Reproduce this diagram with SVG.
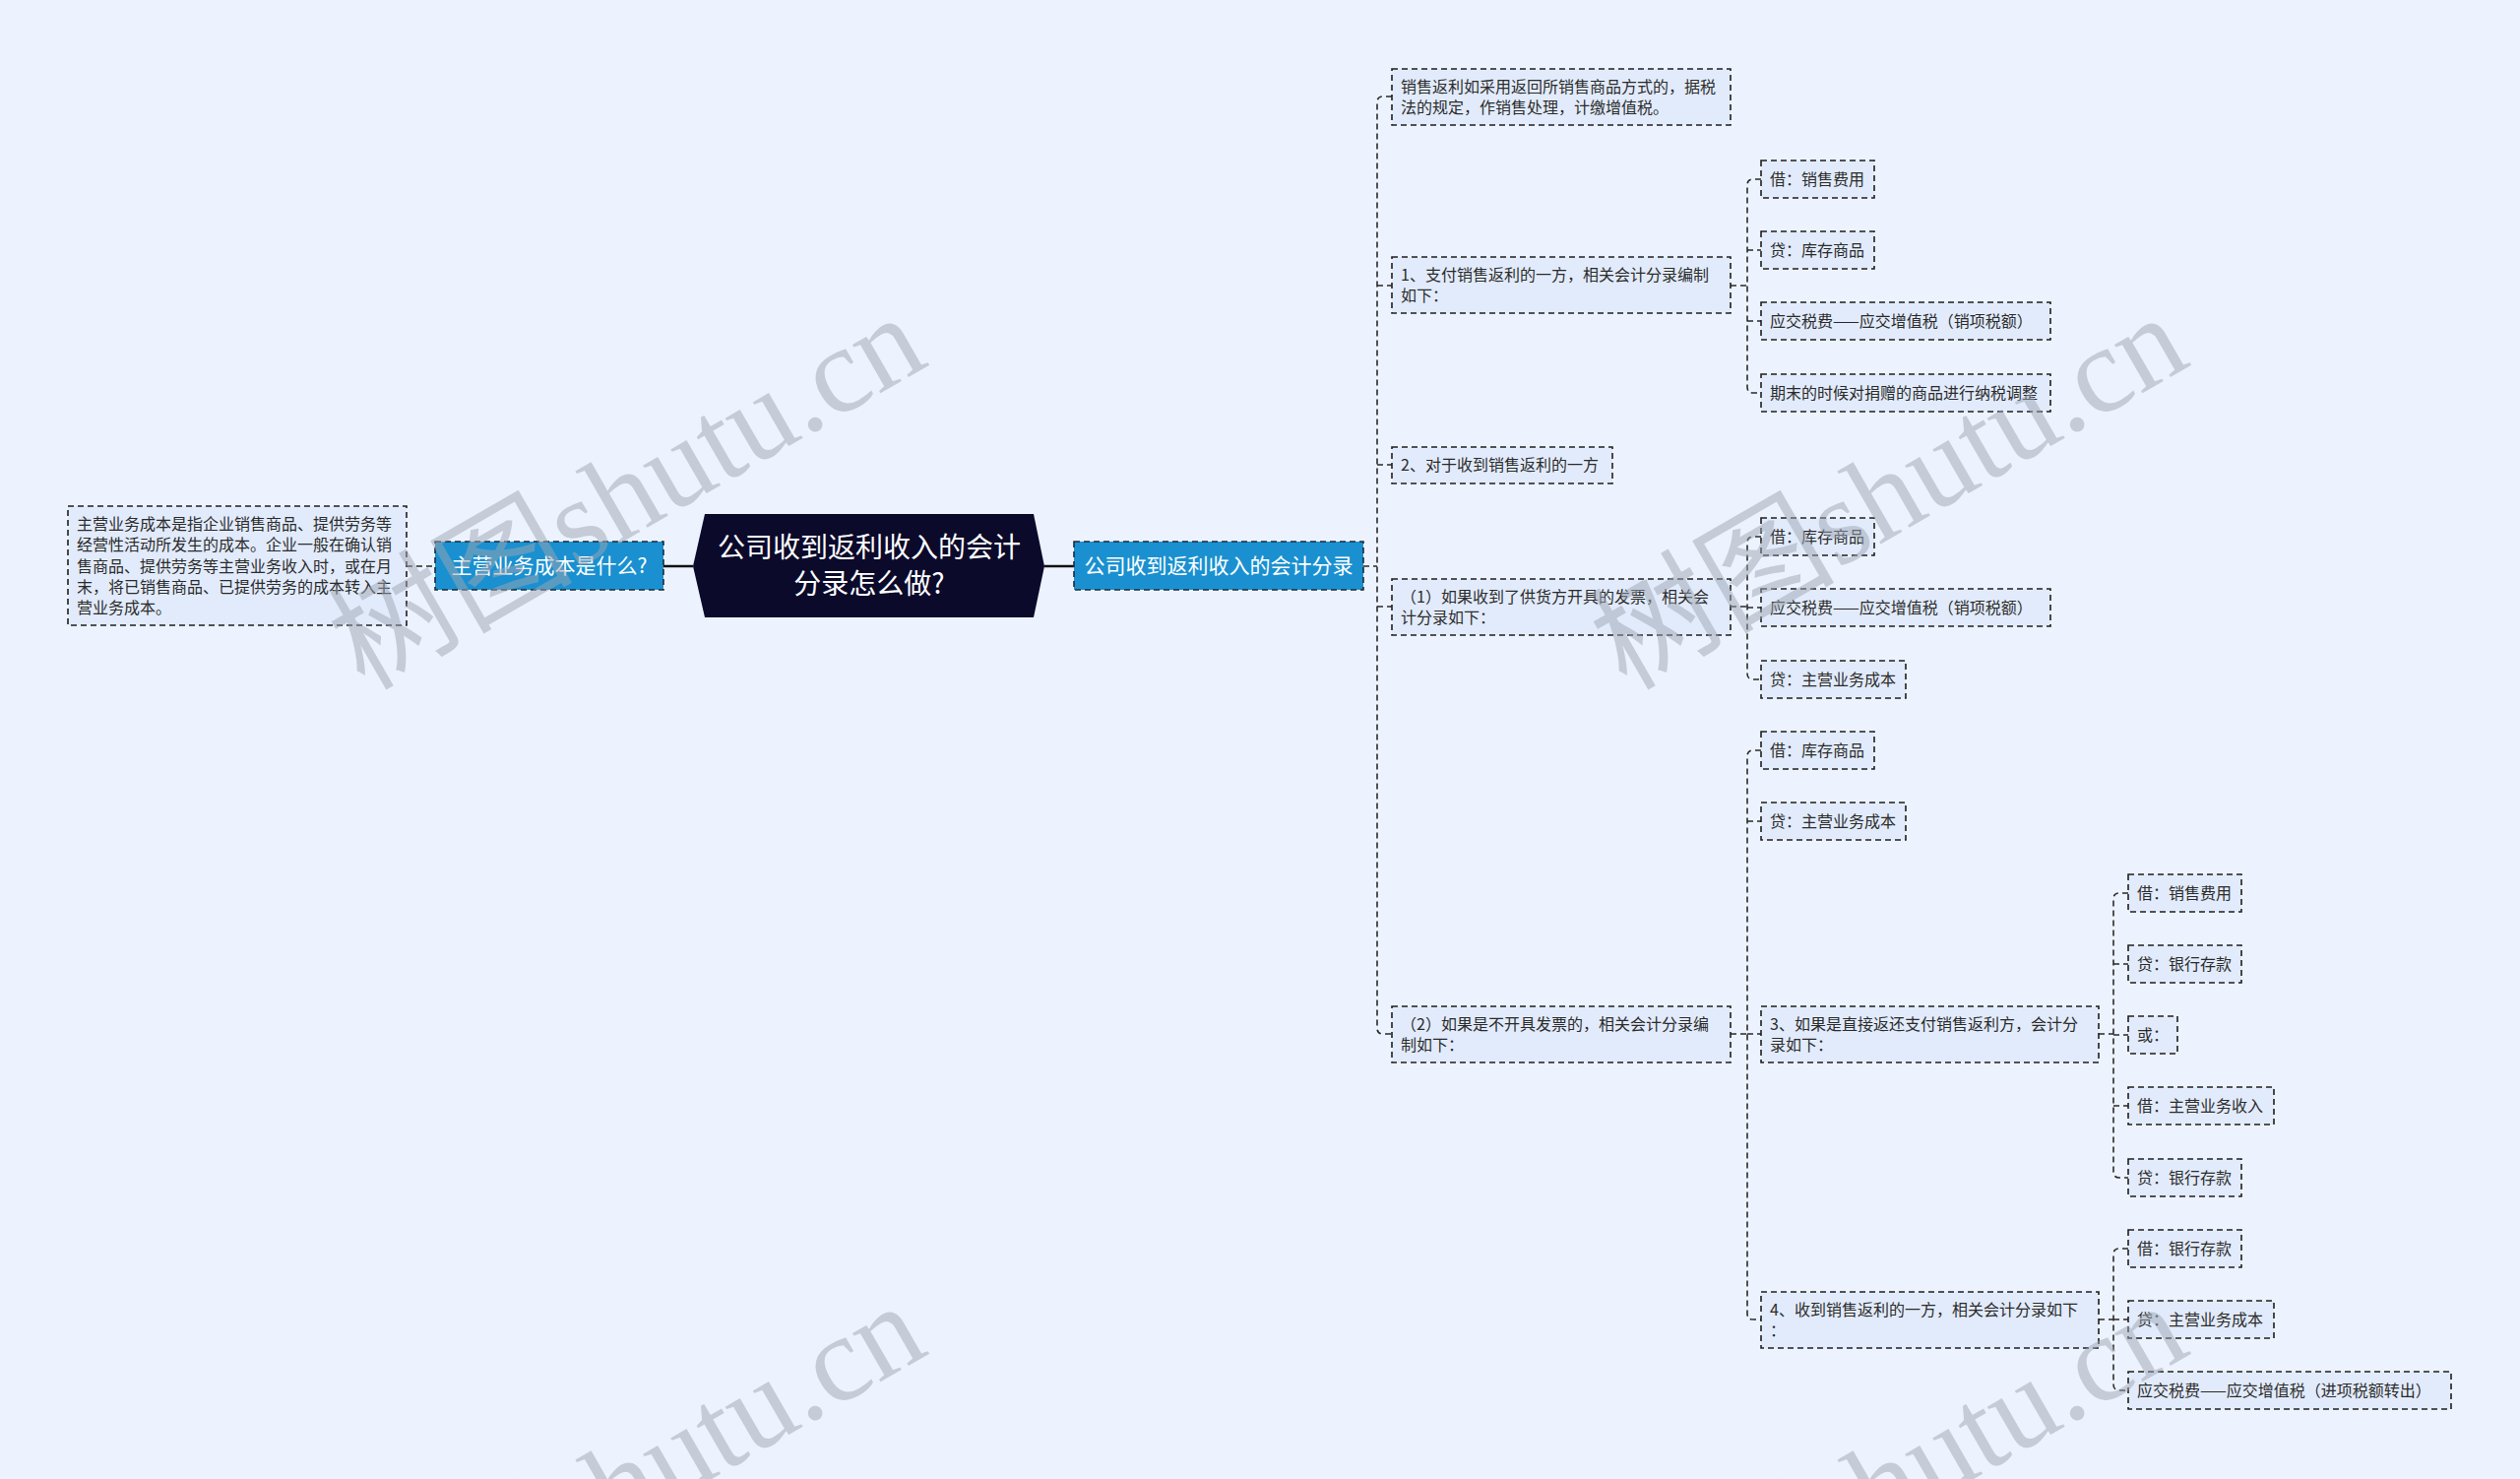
<svg xmlns="http://www.w3.org/2000/svg" width="2560" height="1502" viewBox="0 0 2560 1502">
<style>
.bg{fill:#edf3fe}
.box{fill:#e2ebfb;stroke:#1f1f1f;stroke-width:1.6;stroke-dasharray:6 4}
.blue{fill:#1a90d0;stroke:#1f2a3a;stroke-width:1.6;stroke-dasharray:6 4}
.t{font-family:"Noto Sans CJK SC","Noto Sans",sans-serif;font-size:16px;fill:#2b2b2b}
.tb{font-family:"Noto Sans CJK SC","Noto Sans",sans-serif;font-size:21px;fill:#fff;text-anchor:middle}
.tc{font-family:"Noto Sans CJK SC","Noto Sans",sans-serif;font-size:28px;fill:#fff;text-anchor:middle}
.conn{fill:none;stroke:#2a2a2a;stroke-width:1.6;stroke-dasharray:6 4}
.solid{fill:none;stroke:#111;stroke-width:2.5}
.wm{font-family:"Liberation Serif","Noto Sans CJK SC",serif;font-size:124px;fill:#9ea6b2;opacity:0.5}
</style>
<rect class="bg" x="0" y="0" width="2560" height="1502"/>

<g id="connectors">
  <path class="conn" d="M413 575 H442"/>
  <path class="solid" d="M674 575 H704"/>
  <path class="solid" d="M1061 575 H1091"/>
  <path class="conn" d="M1385 575 H1399"/>
  <path class="conn" d="M1414 98 H1405 Q1399 98 1399 104 V1044 Q1399 1050 1405 1050 H1414"/>
  <path class="conn" d="M1399 290 H1414 M1399 472 H1414 M1399 616 H1414"/>
  <path class="conn" d="M1758 290 H1775"/>
  <path class="conn" d="M1789 182 H1781 Q1775 182 1775 188 V393 Q1775 399 1781 399 H1789"/>
  <path class="conn" d="M1775 254 H1789 M1775 326 H1789"/>
  <path class="conn" d="M1758 616 H1775"/>
  <path class="conn" d="M1789 545 H1781 Q1775 545 1775 551 V684 Q1775 690 1781 690 H1789"/>
  <path class="conn" d="M1775 617 H1789"/>
  <path class="conn" d="M1758 1050 H1775"/>
  <path class="conn" d="M1789 762 H1781 Q1775 762 1775 768 V1334 Q1775 1340 1781 1340 H1789"/>
  <path class="conn" d="M1775 834 H1789 M1775 1050 H1789"/>
  <path class="conn" d="M2132 1050 H2147"/>
  <path class="conn" d="M2162 907 H2153 Q2147 907 2147 913 V1190 Q2147 1196 2153 1196 H2162"/>
  <path class="conn" d="M2147 979 H2162 M2147 1051 H2162 M2147 1123 H2162"/>
  <path class="conn" d="M2132 1340 H2147"/>
  <path class="conn" d="M2162 1268 H2153 Q2147 1268 2147 1274 V1406 Q2147 1412 2153 1412 H2162"/>
  <path class="conn" d="M2147 1340 H2162"/>
</g>

<g id="root">
  <polygon points="716,522 1050,522 1061,575 1050,627 716,627 704,575" fill="#0b0a2b"/>
  <text class="tc" x="883" y="566">公司收到返利收入的会计</text>
  <text class="tc" x="883" y="603">分录怎么做?</text>
</g>

<g id="left-topic">
  <rect class="blue" x="442" y="550" width="232" height="49"/>
  <text class="tb" x="558" y="582">主营业务成本是什么?</text>
</g>
<g id="left-desc">
  <rect class="box" x="69" y="514" width="344" height="121"/>
  <text class="t" x="78" y="538">主营业务成本是指企业销售商品、提供劳务等</text>
  <text class="t" x="78" y="559">经营性活动所发生的成本。企业一般在确认销</text>
  <text class="t" x="78" y="581">售商品、提供劳务等主营业务收入时，或在月</text>
  <text class="t" x="78" y="602">末，将已销售商品、已提供劳务的成本转入主</text>
  <text class="t" x="78" y="623">营业务成本。</text>
</g>

<g id="right-topic">
  <rect class="blue" x="1091" y="550" width="294" height="49"/>
  <text class="tb" x="1238" y="582">公司收到返利收入的会计分录</text>
</g>

<g id="c1">
  <rect class="box" x="1414" y="70" width="344" height="57"/>
  <text class="t" x="1423" y="94">销售返利如采用返回所销售商品方式的，据税</text>
  <text class="t" x="1423" y="115">法的规定，作销售处理，计缴增值税。</text>
</g>
<g id="c2">
  <rect class="box" x="1414" y="261" width="344" height="57"/>
  <text class="t" x="1423" y="285">1、支付销售返利的一方，相关会计分录编制</text>
  <text class="t" x="1423" y="306">如下：</text>
</g>
<g id="c3">
  <rect class="box" x="1414" y="454" width="224" height="37"/>
  <text class="t" x="1423" y="478">2、对于收到销售返利的一方</text>
</g>
<g id="c4">
  <rect class="box" x="1414" y="588" width="344" height="57"/>
  <text class="t" x="1423" y="612">（1）如果收到了供货方开具的发票，相关会</text>
  <text class="t" x="1423" y="633">计分录如下：</text>
</g>
<g id="c5">
  <rect class="box" x="1414" y="1022" width="344" height="57"/>
  <text class="t" x="1423" y="1046">（2）如果是不开具发票的，相关会计分录编</text>
  <text class="t" x="1423" y="1067">制如下：</text>
</g>

<g id="c2-1"><rect class="box" x="1789" y="163" width="115" height="38"/><text class="t" x="1798" y="188">借：销售费用</text></g>
<g id="c2-2"><rect class="box" x="1789" y="235" width="115" height="38"/><text class="t" x="1798" y="260">贷：库存商品</text></g>
<g id="c2-3"><rect class="box" x="1789" y="307" width="294" height="38"/><text class="t" x="1798" y="332">应交税费——应交增值税（销项税额）</text></g>
<g id="c2-4"><rect class="box" x="1789" y="380" width="294" height="38"/><text class="t" x="1798" y="405">期末的时候对捐赠的商品进行纳税调整</text></g>

<g id="c4-1"><rect class="box" x="1789" y="526" width="115" height="38"/><text class="t" x="1798" y="551">借：库存商品</text></g>
<g id="c4-2"><rect class="box" x="1789" y="598" width="294" height="38"/><text class="t" x="1798" y="623">应交税费——应交增值税（销项税额）</text></g>
<g id="c4-3"><rect class="box" x="1789" y="671" width="147" height="38"/><text class="t" x="1798" y="696">贷：主营业务成本</text></g>

<g id="c5-1"><rect class="box" x="1789" y="743" width="115" height="38"/><text class="t" x="1798" y="768">借：库存商品</text></g>
<g id="c5-2"><rect class="box" x="1789" y="815" width="147" height="38"/><text class="t" x="1798" y="840">贷：主营业务成本</text></g>
<g id="c5-3">
  <rect class="box" x="1789" y="1022" width="343" height="57"/>
  <text class="t" x="1798" y="1046">3、如果是直接返还支付销售返利方，会计分</text>
  <text class="t" x="1798" y="1067">录如下：</text>
</g>
<g id="c5-4">
  <rect class="box" x="1789" y="1312" width="343" height="57"/>
  <text class="t" x="1798" y="1336">4、收到销售返利的一方，相关会计分录如下</text>
  <text class="t" x="1798" y="1357">：</text>
</g>

<g id="c53-1"><rect class="box" x="2162" y="888" width="115" height="38"/><text class="t" x="2171" y="913">借：销售费用</text></g>
<g id="c53-2"><rect class="box" x="2162" y="960" width="115" height="38"/><text class="t" x="2171" y="985">贷：银行存款</text></g>
<g id="c53-3"><rect class="box" x="2162" y="1032" width="50" height="38"/><text class="t" x="2171" y="1057">或：</text></g>
<g id="c53-4"><rect class="box" x="2162" y="1104" width="148" height="38"/><text class="t" x="2171" y="1129">借：主营业务收入</text></g>
<g id="c53-5"><rect class="box" x="2162" y="1177" width="115" height="38"/><text class="t" x="2171" y="1202">贷：银行存款</text></g>

<g id="c54-1"><rect class="box" x="2162" y="1249" width="115" height="38"/><text class="t" x="2171" y="1274">借：银行存款</text></g>
<g id="c54-2"><rect class="box" x="2162" y="1321" width="148" height="38"/><text class="t" x="2171" y="1346">贷：主营业务成本</text></g>
<g id="c54-3"><rect class="box" x="2162" y="1393" width="328" height="38"/><text class="t" x="2171" y="1418">应交税费——应交增值税（进项税额转出）</text></g>

<g id="watermarks">
  <text class="wm" transform="translate(370 702) rotate(-30)">树图shutu.cn</text>
  <text class="wm" transform="translate(1652 702) rotate(-30)">树图shutu.cn</text>
  <text class="wm" transform="translate(370 1706) rotate(-30)">树图shutu.cn</text>
  <text class="wm" transform="translate(1652 1706) rotate(-30)">树图shutu.cn</text>
</g>
</svg>
